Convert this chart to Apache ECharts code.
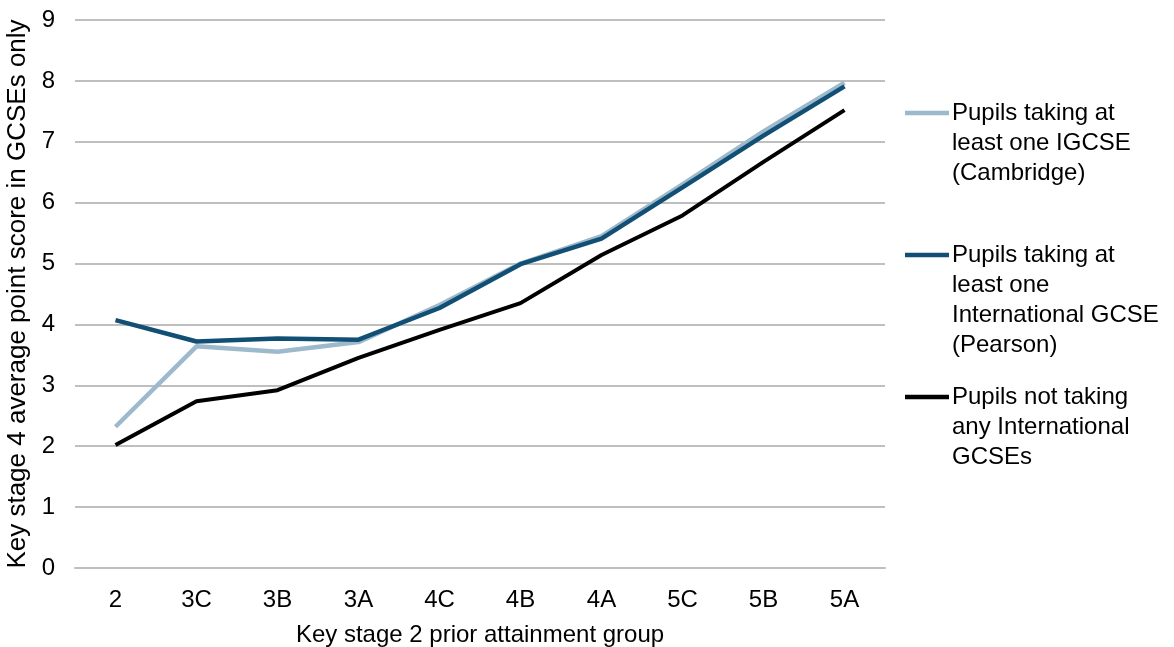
<!DOCTYPE html>
<html>
<head>
<meta charset="utf-8">
<script src="https://cdn.jsdelivr.net/npm/echarts@6/dist/echarts.min.js"></script>
<style>
html,body{margin:0;padding:0;background:#fff;}
#chart{width:1174px;height:647px;}
</style>
</head>
<body>
<div id="chart"></div>
<script>
const categories = ['2','3C','3B','3A','4C','4B','4A','5C','5B','5A'];
const cambridge = [2.32, 3.64, 3.55, 3.71, 4.32, 5.00, 5.45, 6.30, 7.17, 7.97];
const pearson   = [4.07, 3.72, 3.77, 3.75, 4.27, 4.99, 5.41, 6.25, 7.10, 7.91];
const notTaking = [2.02, 2.74, 2.92, 3.45, 3.91, 4.35, 5.14, 5.79, 6.67, 7.52];
const seriesNames = [
  'Pupils taking at\nleast one IGCSE\n(Cambridge)',
  'Pupils taking at\nleast one\nInternational GCSE\n(Pearson)',
  'Pupils not taking\nany International\nGCSEs'
];
const seriesColors = ['#9db9cc', '#124f74', '#000000'];
const xAxisTitle = 'Key stage 2 prior attainment group';
const yAxisTitle = 'Key stage 4 average point score in GCSEs only';

const FONT = '"Liberation Sans", Arial, sans-serif';
const chart = echarts.init(document.getElementById('chart'));

const legendTops = [113, 255, 397];
const graphics = [];
seriesNames.forEach((name, i) => {
  graphics.push({
    type: 'line',
    shape: {x1: 905, y1: legendTops[i], x2: 949, y2: legendTops[i]},
    style: {stroke: seriesColors[i], lineWidth: 4.5}
  });
  graphics.push({
    type: 'text',
    x: 952, y: legendTops[i] - 15,
    style: {text: name, font: '24px ' + FONT, fill: '#000', lineHeight: 30, verticalAlign: 'top', align: 'left'}
  });
});

const allData = [cambridge, pearson, notTaking];
chart.setOption({
  animation: false,
  backgroundColor: '#fff',
  grid: {left: 75, right: 289, top: 20, bottom: 79, containLabel: false, outerBoundsMode: 'none'},
  xAxis: {
    type: 'category',
    data: categories,
    boundaryGap: true,
    axisLine: {show: true, lineStyle: {color: '#bfbfbf', width: 2}},
    axisTick: {show: false},
    axisLabel: {color: '#000', fontSize: 24, fontFamily: FONT, margin: 20},
    name: xAxisTitle,
    nameLocation: 'middle',
    nameGap: 55,
    nameTextStyle: {color: '#000', fontSize: 24, fontFamily: FONT}
  },
  yAxis: {
    type: 'value',
    min: 0, max: 9, interval: 1,
    axisLine: {show: false},
    axisTick: {show: false},
    splitLine: {lineStyle: {color: '#bfbfbf', width: 2}},
    axisLabel: {color: '#000', fontSize: 24, fontFamily: FONT, margin: 20},
    name: yAxisTitle,
    nameLocation: 'middle',
    nameGap: 42,
    nameTextStyle: {color: '#000', fontSize: 26, fontFamily: FONT}
  },
  series: allData.map((d, i) => ({
    type: 'line',
    name: seriesNames[i],
    data: d,
    showSymbol: false,
    z: i === 1 ? 3 : 2,
    lineStyle: {color: seriesColors[i], width: i === 2 ? 4 : 4.5},
    itemStyle: {color: seriesColors[i]}
  })),
  graphic: graphics
});
</script>
</body>
</html>
